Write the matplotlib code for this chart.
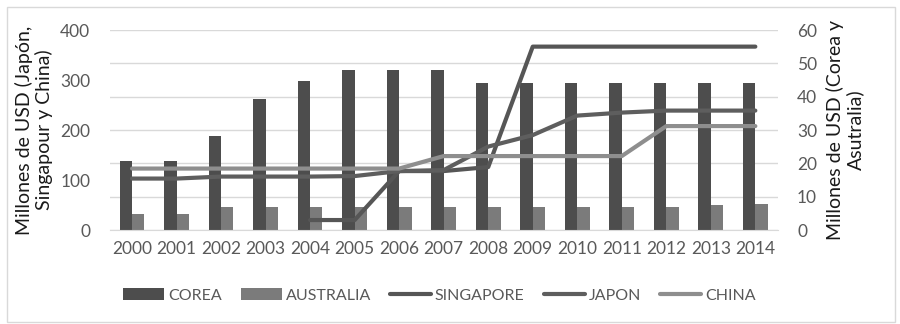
import matplotlib
matplotlib.use("Agg")
import matplotlib.pyplot as plt
import numpy as np
from matplotlib.patches import Rectangle

years = ["2000", "2001", "2002", "2003", "2004", "2005", "2006", "2007",
         "2008", "2009", "2010", "2011", "2012", "2013", "2014"]
corea = [20.7, 20.7, 28.2, 39.3, 44.8, 48.1, 48.1, 48.1, 44.0, 44.0, 44.0, 44.0, 44.0, 44.0, 44.0]
australia = [4.7, 4.7, 6.9, 6.9, 6.9, 6.9, 6.9, 6.9, 6.9, 6.9, 6.9, 6.9, 6.9, 7.4, 7.7]
singapore = [None, None, None, None, 20, 20, 118, 118, 126, 367, 367, 367, 367, 367, 367]
japon = [103, 103, 107, 107, 107, 108, 118, 120, 167, 190, 229, 235, 239, 239, 239]
china = [123, 123, 123, 123, 123, 123, 123, 148, 148, 148, 148, 148, 208, 208, 208]

plt.rcParams['font.family'] = ['Lato', 'DejaVu Sans']
fig = plt.figure(figsize=(9, 3.24), dpi=100)
ax2 = fig.add_axes([0.122, 0.290, 0.742, 0.617])
ax = ax2.twinx()
# ax2 holds bars (right axis), ax holds lines (left axis)
ax2.yaxis.tick_right()
ax2.yaxis.set_label_position("right")
ax.yaxis.tick_left()
ax.yaxis.set_label_position("left")

x = np.arange(len(years))
w = 0.277
tick_col = "#595959"
b1 = ax2.bar(x - w/2, corea, w, color="#4d4d4d", label="COREA", zorder=2)
b2 = ax2.bar(x + w/2, australia, w, color="#7b7b7b", label="AUSTRALIA", zorder=2)
ax2.set_ylim(0, 60)
ax2.set_yticks(range(0, 61, 10))
ax2.set_xlim(-0.5, len(years) - 0.5)
ax2.grid(axis="y", color="#d9d9d9", linewidth=1, zorder=0)
ax2.set_axisbelow(True)

sing = np.array([np.nan if v is None else v for v in singapore], dtype=float)
l1, = ax.plot(x, sing, color="#565656", lw=3, label="SINGAPORE", solid_capstyle="round")
l2, = ax.plot(x, japon, color="#5e5e5e", lw=3, label="JAPON", solid_capstyle="round")
l3, = ax.plot(x, china, color="#8e8e8e", lw=3, label="CHINA", solid_capstyle="round")
ax.set_ylim(0, 400)
ax.set_yticks(range(0, 401, 100))

for a in (ax, ax2):
    for s in a.spines.values():
        s.set_visible(False)
    a.tick_params(length=0, labelsize=12.5, colors=tick_col, pad=8)
ax2.spines["bottom"].set_visible(True)
ax2.spines["bottom"].set_color("#d9d9d9")
ax2.set_xticks(x)
ax2.set_xticklabels(years)
ax2.tick_params(axis="x", pad=8)
ax.tick_params(axis="y", pad=14)
ax2.tick_params(axis="y", pad=14)

ax.set_ylabel("Millones de USD (Japón,\nSingapour y China)", fontsize=14, color="#1a1a1a",
              labelpad=5, linespacing=1.15)
ax2.set_ylabel("Millones de USD (Corea y\nAsutralia)", fontsize=14, color="#1a1a1a",
               labelpad=6, rotation=90, linespacing=1.15)

handles = [b1, b2, l1, l2, l3]
leg = fig.legend(handles, [h.get_label() for h in handles], loc="center left",
                 bbox_to_anchor=(0.121, 0.088), ncol=5, frameon=False, fontsize=11.5,
                 handlelength=2.55, handletextpad=0.25, columnspacing=1.2, labelcolor=tick_col)

fig.patches.append(Rectangle((0.008, 0.006), 0.986, 0.972, transform=fig.transFigure,
                             fill=False, edgecolor="#d9d9d9", linewidth=1))

fig.savefig("out.png", dpi=100)
